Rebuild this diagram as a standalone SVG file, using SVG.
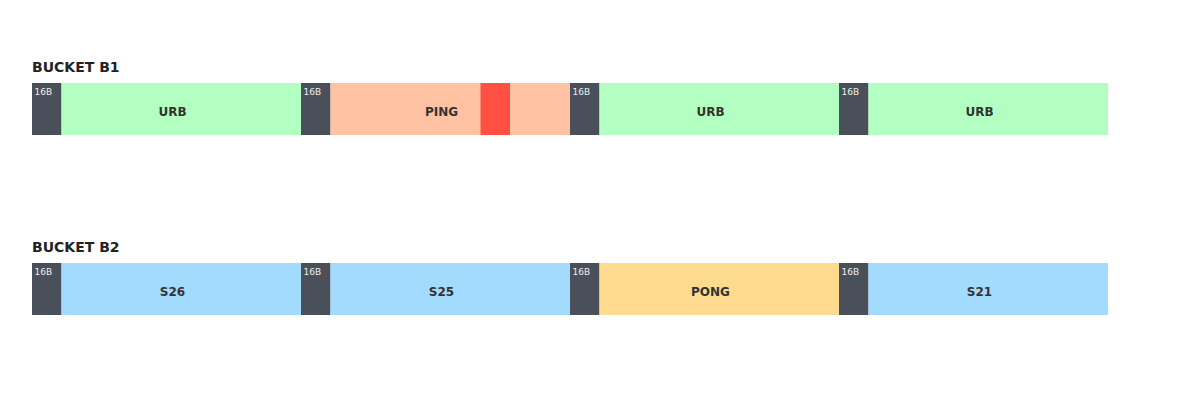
<svg xmlns="http://www.w3.org/2000/svg" width="1200" height="400" viewBox="0 0 1200 400">
<style>
.title{font-family:"DejaVu Sans",sans-serif;font-size:14px;font-weight:bold;fill:#222}
.hdr{fill:#4a5059}
.hl{font-family:"DejaVu Sans",sans-serif;font-size:9px;fill:#eee}
.lbl{font-family:"DejaVu Sans",sans-serif;font-size:12px;font-weight:bold;fill:#333;text-anchor:middle}
.urb{fill:#b3ffc1}
.ping{fill:#ffc2a3}
.red{fill:#ff5043}
.s{fill:#a3dbff}
.pong{fill:#ffdb8f}
</style>
<rect width="1200" height="400" fill="#fff"/>
<text class="title" x="32" y="72">BUCKET B1</text>
<g id="b1-slot1"><rect class="hdr" x="32" y="83" width="29.5" height="52"/><text class="hl" x="34.5" y="95">16B</text><rect class="urb" x="61.5" y="83" width="239.5" height="52"/><text class="lbl" x="172.5" y="115.5">URB</text></g>
<g id="b1-slot2"><rect class="hdr" x="301" y="83" width="29.5" height="52"/><text class="hl" x="303.5" y="95">16B</text><rect class="ping" x="330.5" y="83" width="239.5" height="52"/><rect class="red" x="480.5" y="83" width="29.5" height="52"/><text class="lbl" x="441.5" y="115.5">PING</text></g>
<g id="b1-slot3"><rect class="hdr" x="570" y="83" width="29.5" height="52"/><text class="hl" x="572.5" y="95">16B</text><rect class="urb" x="599.5" y="83" width="239.5" height="52"/><text class="lbl" x="710.5" y="115.5">URB</text></g>
<g id="b1-slot4"><rect class="hdr" x="839" y="83" width="29.5" height="52"/><text class="hl" x="841.5" y="95">16B</text><rect class="urb" x="868.5" y="83" width="239.5" height="52"/><text class="lbl" x="979.5" y="115.5">URB</text></g>
<text class="title" x="32" y="252">BUCKET B2</text>
<g id="b2-slot1"><rect class="hdr" x="32" y="263" width="29.5" height="52"/><text class="hl" x="34.5" y="275">16B</text><rect class="s" x="61.5" y="263" width="239.5" height="52"/><text class="lbl" x="172.5" y="295.5">S26</text></g>
<g id="b2-slot2"><rect class="hdr" x="301" y="263" width="29.5" height="52"/><text class="hl" x="303.5" y="275">16B</text><rect class="s" x="330.5" y="263" width="239.5" height="52"/><text class="lbl" x="441.5" y="295.5">S25</text></g>
<g id="b2-slot3"><rect class="hdr" x="570" y="263" width="29.5" height="52"/><text class="hl" x="572.5" y="275">16B</text><rect class="pong" x="599.5" y="263" width="239.5" height="52"/><text class="lbl" x="710.5" y="295.5">PONG</text></g>
<g id="b2-slot4"><rect class="hdr" x="839" y="263" width="29.5" height="52"/><text class="hl" x="841.5" y="275">16B</text><rect class="s" x="868.5" y="263" width="239.5" height="52"/><text class="lbl" x="979.5" y="295.5">S21</text></g>
<g id="connectors"></g>
</svg>
